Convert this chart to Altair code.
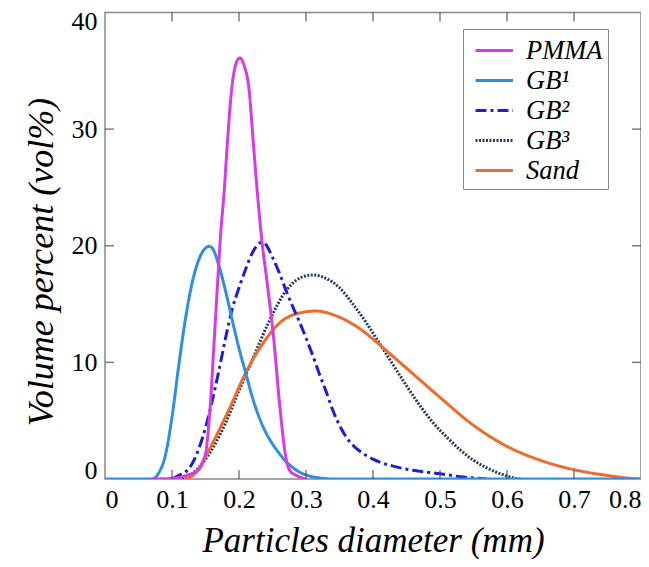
import altair as alt
import pandas as pd

# ---- data ----
series = ["PMMA", "GB¹", "GB²", "GB³", "Sand"]
colors = ["#d63be6", "#2f8ee0", "#1d1dd6", "#243a60", "#f06a2a"]

pmma_x = [0.07, 0.10, 0.121, 0.138, 0.150, 0.157, 0.163, 0.169, 0.172, 0.178, 0.183, 0.189,
          0.195, 0.201, 0.208, 0.215, 0.221, 0.227, 0.235, 0.241, 0.252, 0.261, 0.269, 0.276,
          0.286, 0.30]
pmma_y = [0, 0.05, 0.3, 0.7, 2.2, 6.2, 11.9, 17.7, 20.5, 24.8, 29.1, 33.4,
          35.5, 36.1, 35.4, 33.4, 29.1, 24.8, 20.0, 17.3, 11.9, 6.2, 2.2, 0.7,
          0.3, 0]

gb1_x = [0, 0.07, 0.08, 0.09, 0.10, 0.11, 0.12, 0.13, 0.14, 0.15, 0.155, 0.16,
         0.17, 0.18, 0.19, 0.20, 0.21, 0.22, 0.23, 0.24, 0.25, 0.26, 0.27, 0.28,
         0.29, 0.30, 0.32, 0.34, 0.8]
gb1_y = [0, 0, 0.5, 2.0, 5.3, 9.7, 13.7, 16.8, 18.8, 19.8, 19.95, 19.8,
         18.3, 16.1, 13.6, 11.2, 9.1, 7.0, 5.3, 4.0, 3.0, 2.2, 1.5, 1.0,
         0.6, 0.35, 0.1, 0, 0]

gb2_x = [0.10, 0.11, 0.12, 0.13, 0.14, 0.15, 0.16, 0.17, 0.18, 0.19, 0.20, 0.21,
         0.22, 0.23, 0.235, 0.24, 0.25, 0.26, 0.27, 0.28, 0.29, 0.30, 0.31, 0.32,
         0.33, 0.34, 0.35, 0.36, 0.37, 0.38, 0.40, 0.43, 0.46, 0.50, 0.53, 0.57]
gb2_y = [0, 0.3, 0.6, 1.3, 2.6, 4.4, 6.7, 9.3, 12.1, 14.6, 16.4, 18.0,
         19.4, 20.2, 20.3, 20.1, 19.0, 17.7, 16.2, 14.8, 13.5, 12.1, 10.6, 9.0,
         7.5, 5.9, 4.6, 3.6, 2.9, 2.4, 1.7, 1.1, 0.75, 0.45, 0.2, 0]

gb3_x = [0.115, 0.13, 0.15, 0.18, 0.20, 0.222, 0.244, 0.271, 0.298, 0.31, 0.33, 0.35,
         0.37, 0.39, 0.41, 0.43, 0.45, 0.47, 0.49, 0.51, 0.53, 0.55, 0.57, 0.59,
         0.61, 0.62]
gb3_y = [0, 0.45, 1.7, 4.8, 7.6, 10.5, 13.4, 16.2, 17.4, 17.5, 17.2, 16.4,
         15.0, 13.4, 11.6, 9.8, 8.0, 6.3, 4.8, 3.6, 2.5, 1.6, 0.95, 0.45,
         0.1, 0]

sand_x = [0.12, 0.135, 0.15, 0.163, 0.187, 0.21, 0.239, 0.261, 0.288, 0.315, 0.34, 0.36,
          0.38, 0.40, 0.42, 0.45, 0.50, 0.55, 0.60, 0.65, 0.70, 0.75, 0.78, 0.80]
sand_y = [0, 0.5, 1.9, 3.35, 6.2, 9.1, 11.9, 13.4, 14.2, 14.4, 14.1, 13.6,
          12.9, 12.0, 11.0, 9.5, 7.0, 4.6, 2.8, 1.6, 0.8, 0.3, 0.08, 0]

x_ticks = [0.1, 0.2, 0.3, 0.4, 0.5, 0.6, 0.7]
y_ticks = [10, 20, 30]
x_labels = [0, 0.1, 0.2, 0.3, 0.4, 0.5, 0.6, 0.7, 0.8]
y_labels = [0, 10, 20, 30, 40]

# ---- build table ----
xs = {"PMMA": pmma_x, "GB¹": gb1_x, "GB²": gb2_x, "GB³": gb3_x, "Sand": sand_x}
ys = {"PMMA": pmma_y, "GB¹": gb1_y, "GB²": gb2_y, "GB³": gb3_y, "Sand": sand_y}
rows = []
for s in series:
    for a, b in zip(xs[s], ys[s]):
        rows.append({"s": s, "d": a, "v": b})
df = pd.DataFrame(rows)

W, H = 536, 466.5
SERIF = "Liberation Serif"
dashes = [[1, 0], [1, 0], [11, 4, 3, 4], [2, 1.5], [1, 0]]
widths = [3, 3, 3.5, 4.5, 3]

legend = alt.Legend(
    title=None, orient="none", legendX=358, legendY=16.5,
    symbolType="M-0.6,0H1.9", symbolSize=900, symbolStrokeWidth=3,
    labelFont=SERIF, labelFontStyle="italic", labelFontSize=26.5, labelColor="black",
    labelOffset=25, rowPadding=0, padding=5,
    strokeColor="#888888", fillColor="white",
)

xscale = alt.Scale(domain=[0, 0.8], nice=False, zero=False)
yscale = alt.Scale(domain=[0, 40], nice=False)

base = alt.Chart(df).mark_line(interpolate="monotone", clip=True).encode(
    x=alt.X("d:Q", scale=xscale,
            axis=alt.Axis(title="Particles diameter (mm)", values=x_labels, format="~g")),
    y=alt.Y("v:Q", scale=yscale,
            axis=alt.Axis(title="Volume percent (vol%)", values=y_labels)),
    color=alt.Color("s:N", scale=alt.Scale(domain=series, range=colors), legend=legend),
    strokeDash=alt.StrokeDash("s:N", scale=alt.Scale(domain=series, range=dashes), legend=legend),
    strokeWidth=alt.StrokeWidth("s:N", scale=alt.Scale(domain=series, range=widths), legend=None),
)

draw_order = ["GB³", "Sand", "GB²", "GB¹", "PMMA"]
lines = [base.transform_filter(alt.datum.s == s) for s in draw_order]

xt = pd.DataFrame({"d": x_ticks})
yt = pd.DataFrame({"v": y_ticks})
tick_color = "#444444"
tick_kw = dict(size=9, thickness=1.5, color=tick_color)
bottom_ticks = alt.Chart(xt).mark_tick(orient="vertical", **tick_kw).encode(
    x=alt.X("d:Q", scale=xscale), y=alt.value(H - 4.5))
top_ticks = alt.Chart(xt).mark_tick(orient="vertical", **tick_kw).encode(
    x=alt.X("d:Q", scale=xscale), y=alt.value(4.5))
left_ticks = alt.Chart(yt).mark_tick(orient="horizontal", **tick_kw).encode(
    y=alt.Y("v:Q", scale=yscale), x=alt.value(4.5))
right_ticks = alt.Chart(yt).mark_tick(orient="horizontal", **tick_kw).encode(
    y=alt.Y("v:Q", scale=yscale), x=alt.value(W - 4.5))

chart = alt.layer(*lines, bottom_ticks, top_ticks, left_ticks, right_ticks).properties(
    width=W, height=H, background="white",
    autosize=alt.AutoSizeParams(type="none"),
    padding={"left": 97, "top": 4.5, "right": 0, "bottom": 80},
).configure_view(
    stroke="#888888", strokeWidth=1.5
).configure_axis(
    ticks=False, domain=False, grid=False, labelFlush=True,
    labelFont=SERIF, labelFontSize=26, labelColor="black",
    titleFont=SERIF, titleFontStyle="italic", titleFontWeight="normal",
    titleColor="black",
).configure_axisX(
    labelPadding=7, titlePadding=11, titleFontSize=35
).configure_axisY(
    labelPadding=8, titlePadding=11, labelFlushOffset=4, titleFontSize=36, titleY=249
)

chart.save("out.html", embed_options={"renderer": "svg", "actions": False})
